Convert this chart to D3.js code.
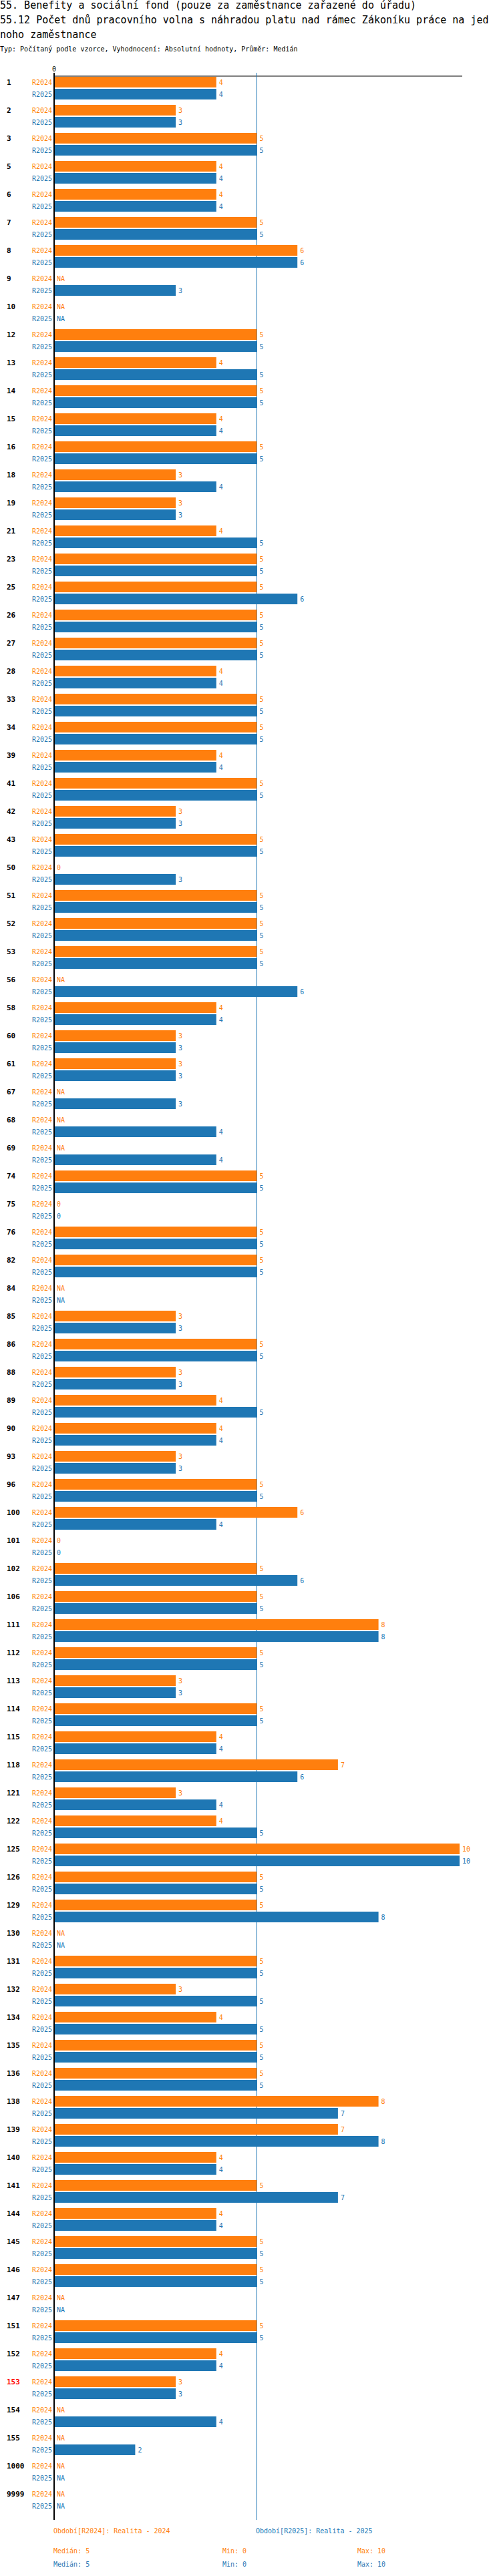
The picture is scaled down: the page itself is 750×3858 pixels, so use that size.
<!DOCTYPE html>
<html><head><meta charset="utf-8">
<script src="https://cdn.jsdelivr.net/npm/d3@7/dist/d3.min.js"></script>
<style>body{margin:0;background:#fff}svg{display:block}text{font-family:"DejaVu Sans Mono",monospace}</style>
</head><body>
<script>
const categories = ["1","2","3","5","6","7","8","9","10","12","13","14","15","16","18","19","21","23","25","26","27","28","33","34","39","41","42","43","50","51","52","53","56","58","60","61","67","68","69","74","75","76","82","84","85","86","88","89","90","93","96","100","101","102","106","111","112","113","114","115","118","121","122","125","126","129","130","131","132","134","135","136","138","139","140","141","144","145","146","147","151","152","153","154","155","1000","9999"];
const r2024 = [4,3,5,4,4,5,6,null,null,5,4,5,4,5,3,3,4,5,5,5,5,4,5,5,4,5,3,5,0,5,5,5,null,4,3,3,null,null,null,5,0,5,5,null,3,5,3,4,4,3,5,6,0,5,5,8,5,3,5,4,7,3,4,10,5,5,null,5,3,4,5,5,8,7,4,5,4,5,5,null,5,4,3,null,null,null,null];
const r2025 = [4,3,5,4,4,5,6,3,null,5,5,5,4,5,4,3,5,5,6,5,5,4,5,5,4,5,3,5,3,5,5,5,6,4,3,3,3,4,4,5,0,5,5,null,3,5,3,5,4,3,5,4,0,6,5,8,5,3,5,4,6,4,5,10,5,8,null,5,5,5,5,5,7,8,4,7,4,5,5,null,5,4,3,4,2,null,null];
const seriesNames = ["R2024","R2025"];
const colors = ["#ff7f0e","#1f77b4"];
const highlighted = ["153"];
const median = 5;
const W=750,H=3858;
const svg=d3.select("body").append("svg").attr("width",W).attr("height",H);
const x=d3.scaleLinear().domain([0,10]).range([81,688]);
const y=d3.scaleBand().domain(categories).range([114,114+42*categories.length]);
const titles=["55. Benefity a sociální fond (pouze za zaměstnance zařazené do úřadu)","55.12 Počet dnů pracovního volna s náhradou platu nad rámec Zákoníku práce na jed","noho zaměstnance"];
titles.forEach((t,i)=>svg.append("text").attr("x",0).attr("y",13+22*i).attr("font-size",15).attr("textLength",t.length*9.1>745?745:null).text(t));
svg.append("text").attr("x",0).attr("y",77).attr("font-size",10).text("Typ: Počítaný podle vzorce, Vyhodnocení: Absolutní hodnoty, Průměr: Medián");
const yEnd=114+42*categories.length+6;
svg.append("line").attr("x1",x(0)).attr("x2",692).attr("y1",114).attr("y2",114).attr("stroke","#000").attr("stroke-width",1);
svg.append("line").attr("x1",x(median)).attr("x2",x(median)).attr("y1",109).attr("y2",yEnd).attr("stroke","#1f77b4").attr("stroke-width",1);
svg.append("text").attr("x",x(0)).attr("y",107).attr("font-size",10).attr("text-anchor","middle").text("0");
const g=svg.append("g");
categories.forEach((c,i)=>{
  const y0=y(c)+9;
  g.append("text").attr("x",10).attr("y",y0+4).attr("font-size",11).attr("font-weight","bold").attr("fill",highlighted.includes(c)?"#ff0000":"#000").text(c);
  [r2024[i],r2025[i]].forEach((v,s)=>{
    const cy=y0+s*18;
    g.append("text").attr("x",78).attr("y",cy+4).attr("font-size",10).attr("text-anchor","end").attr("fill",colors[s]).text(seriesNames[s]);
    if(v!==null&&v>0) g.append("rect").attr("x",x(0)).attr("y",cy-8).attr("width",x(v)-x(0)).attr("height",16).attr("fill",colors[s]);
    g.append("text").attr("x",(v?x(v):x(0))+4).attr("y",cy+4).attr("font-size",10).attr("fill",colors[s]).text(v===null?"NA":v);
  });
});
svg.append("line").attr("x1",x(0)).attr("x2",x(0)).attr("y1",109).attr("y2",yEnd).attr("stroke","#000").attr("stroke-width",2);
const lg=[["Období[R2024]: Realita - 2024",80,3794,0],["Období[R2025]: Realita - 2025",383,3794,1]];
lg.forEach(d=>svg.append("text").attr("x",d[1]).attr("y",d[2]).attr("font-size",10).attr("fill",colors[d[3]]).text(d[0]));
[0,1].forEach(s=>{
  const yy=3824+s*20;
  [["Medián: 5",80],["Min: 0",333],["Max: 10",535]].forEach(d=>svg.append("text").attr("x",d[1]).attr("y",yy).attr("font-size",10).attr("fill",colors[s]).text(d[0]));
});
</script>
</body></html>
